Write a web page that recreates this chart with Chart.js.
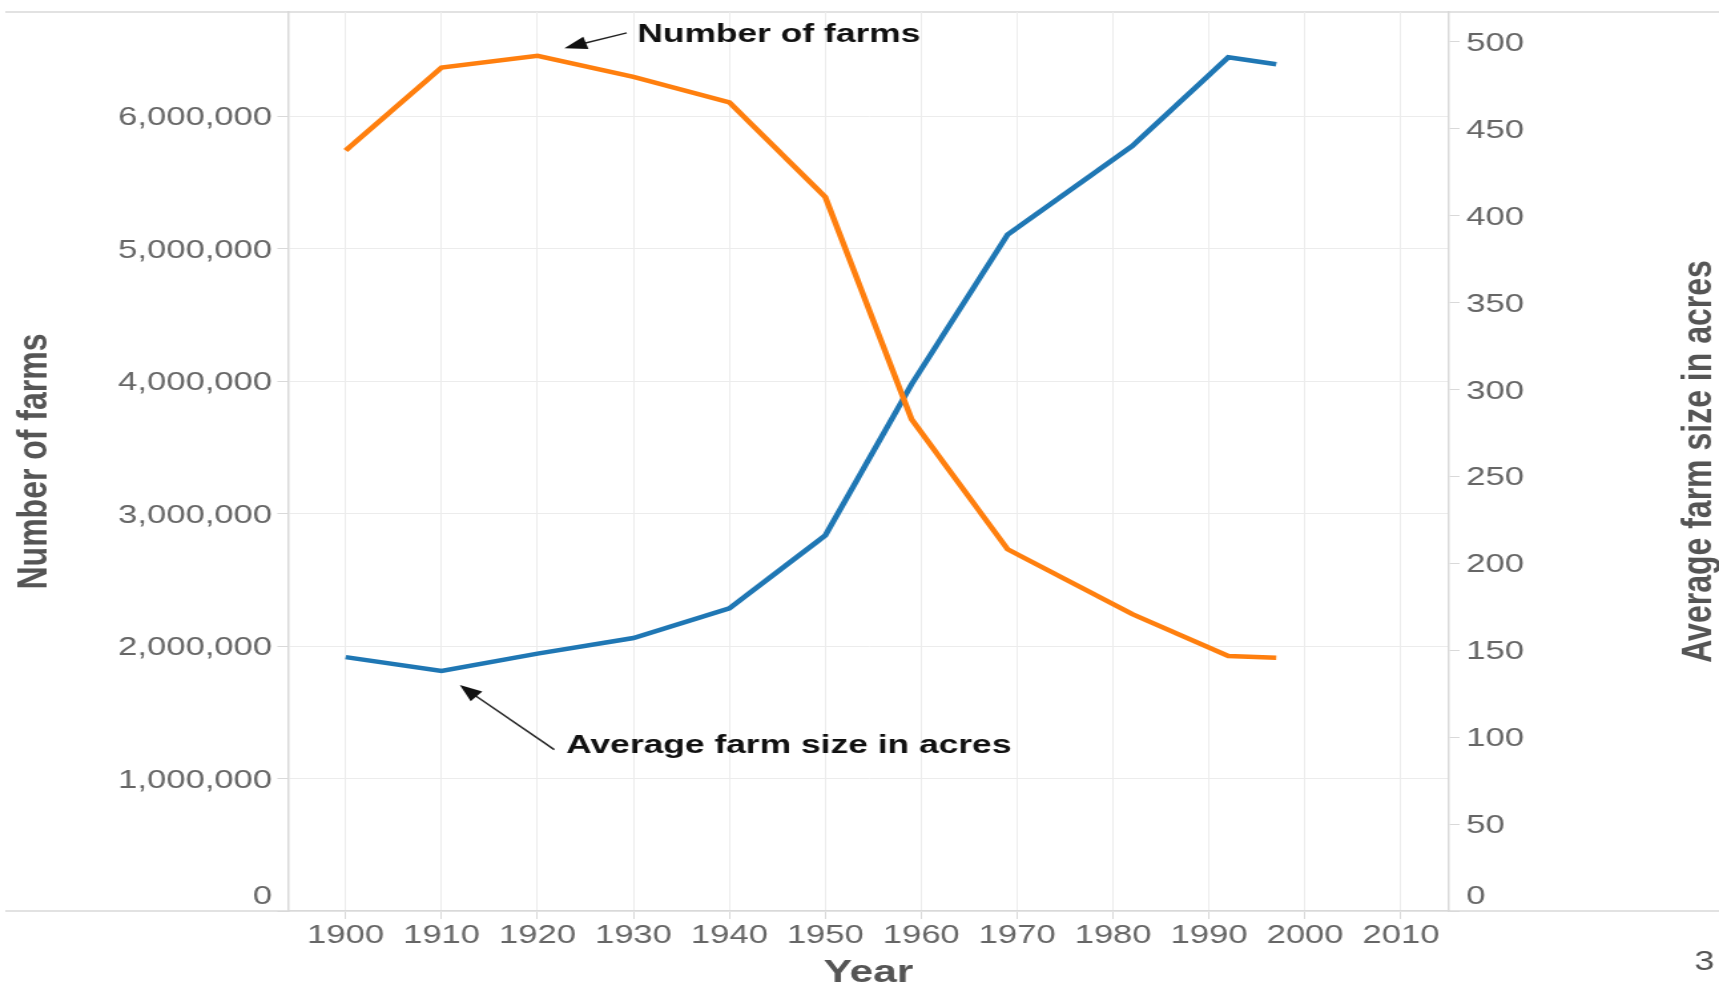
<!DOCTYPE html>
<html>
<head>
<meta charset="utf-8">
<script src="https://cdn.jsdelivr.net/npm/chart.js@4"></script>
<style>
  html, body { margin: 0; padding: 0; background: #fff; overflow: hidden; }
  /* the reference picture is stretched sideways, so the chart is drawn narrow and widened */
  #wrap { position: absolute; left: 0; top: 0; width: 1292px; height: 989px;
          transform: scaleX(1.3305); transform-origin: 0 0; }
</style>
</head>
<body>
<div id="wrap"><canvas id="farmChart"></canvas></div>
<script>
var years = [1900, 1910, 1920, 1930, 1940, 1950, 1959, 1969, 1982, 1992, 1997];
var numberOfFarms = [5740000, 6366000, 6454000, 6295000, 6102000, 5388000, 3711000, 2730000, 2241000, 1925000, 1912000];
var avgFarmSize = [146, 138, 148, 157, 174, 216, 303, 389, 440, 491, 487];

var yearTicks = [1900, 1910, 1920, 1930, 1940, 1950, 1960, 1970, 1980, 1990, 2000, 2010];
var farmTicks = [0, 1000000, 2000000, 3000000, 4000000, 5000000, 6000000];
var sizeTicks = [0, 50, 100, 150, 200, 250, 300, 350, 400, 450, 500];

// annotation anchors, in data units: [year, value]
var farmsArrow = { from: [1929.3, 6627000], to: [1922.8, 6512000], text: [1930.4, 6611000] };
var sizeArrow = { from: [1921.75, 92.8], to: [1911.9, 130.0], text: [1923.0, 95.2] };

var tickFont = "'Liberation Sans', Arial, sans-serif";
var titleFont = "'Liberation Sans Narrow', 'Arial Narrow', 'Liberation Sans', sans-serif";
var gridColor = '#ececec';
var axisColor = '#d9d9d9';

var points = function (values) {
    return years.map(function (y, i) { return { x: y, y: values[i] }; });
};
var useTicks = function (list) {
    return function (s) { s.ticks = list.map(function (v) { return { value: v }; }); };
};

var drawArrow = function (ctx, x1, y1, x2, y2) {
    var ang = Math.atan2(y2 - y1, x2 - x1);
    var len = 17, wid = 6.5;
    ctx.beginPath();
    ctx.moveTo(x1, y1);
    ctx.lineTo(x2 - Math.cos(ang) * len * 0.7, y2 - Math.sin(ang) * len * 0.7);
    ctx.stroke();
    ctx.beginPath();
    ctx.moveTo(x2, y2);
    ctx.lineTo(x2 - len * Math.cos(ang) + wid * Math.sin(ang), y2 - len * Math.sin(ang) - wid * Math.cos(ang));
    ctx.lineTo(x2 - len * Math.cos(ang) - wid * Math.sin(ang), y2 - len * Math.sin(ang) + wid * Math.cos(ang));
    ctx.closePath();
    ctx.fill();
};

var extrasPlugin = {
    id: 'extras',
    beforeDraw: function (chart) {
        var ctx = chart.ctx, a = chart.chartArea;
        ctx.save();
        ctx.strokeStyle = axisColor;
        ctx.lineWidth = 1.5;
        ctx.beginPath();
        ctx.moveTo(4, a.top); ctx.lineTo(chart.width, a.top);
        ctx.moveTo(4, a.bottom); ctx.lineTo(chart.width, a.bottom);
        ctx.stroke();
        ctx.restore();
    },
    afterDraw: function (chart) {
        var ctx = chart.ctx, a = chart.chartArea;
        var sx = chart.scales.x, yl = chart.scales.yFarms, yr = chart.scales.ySize;
        ctx.save();

        // zero labels sit just above the baseline
        ctx.fillStyle = '#666';
        ctx.font = '26px ' + tickFont;
        ctx.textBaseline = 'middle';
        ctx.textAlign = 'right';
        ctx.fillText('0', yl.right - 12, yl.getPixelForValue(0) - 14);
        ctx.textAlign = 'left';
        ctx.fillText('0', yr.left + 13, yr.getPixelForValue(0) - 14);

        // right axis title, reading upwards
        ctx.save();
        ctx.translate(1277, (a.top + a.bottom) / 2);
        ctx.rotate(-Math.PI / 2);
        ctx.textAlign = 'center';
        ctx.fillStyle = '#555';
        ctx.font = 'bold 32px ' + titleFont;
        ctx.fillText('Average farm size in acres', 0, 0);
        ctx.restore();

        // annotations
        ctx.strokeStyle = '#222';
        ctx.fillStyle = '#111';
        ctx.lineWidth = 1.4;
        drawArrow(ctx, sx.getPixelForValue(farmsArrow.from[0]), yl.getPixelForValue(farmsArrow.from[1]),
            sx.getPixelForValue(farmsArrow.to[0]), yl.getPixelForValue(farmsArrow.to[1]));
        drawArrow(ctx, sx.getPixelForValue(sizeArrow.from[0]), yr.getPixelForValue(sizeArrow.from[1]),
            sx.getPixelForValue(sizeArrow.to[0]), yr.getPixelForValue(sizeArrow.to[1]));

        ctx.font = 'bold 26.6px ' + tickFont;
        ctx.textAlign = 'left';
        ctx.textBaseline = 'middle';
        ctx.fillText('Number of farms', sx.getPixelForValue(farmsArrow.text[0]), yl.getPixelForValue(farmsArrow.text[1]));
        ctx.fillText('Average farm size in acres', sx.getPixelForValue(sizeArrow.text[0]), yr.getPixelForValue(sizeArrow.text[1]));

        // page number
        ctx.fillStyle = '#555';
        ctx.font = '27px ' + tickFont;
        ctx.textAlign = 'center';
        ctx.fillText('3', 1281, 963);
        ctx.restore();
    }
};

var chart = new Chart(document.getElementById('farmChart'), {
    type: 'line',
    data: {
        datasets: [
            {
                label: 'Number of farms',
                data: points(numberOfFarms),
                yAxisID: 'yFarms',
                borderColor: '#ff7f0e',
                borderWidth: 4.5,
                pointRadius: 0,
                tension: 0
            },
            {
                label: 'Average farm size in acres',
                data: points(avgFarmSize),
                yAxisID: 'ySize',
                borderColor: '#1f77b4',
                borderWidth: 4.5,
                pointRadius: 0,
                tension: 0
            }
        ]
    },
    options: {
        responsive: true,
        maintainAspectRatio: false,
        animation: false,
        layout: { padding: { top: 12, left: 0, right: 0, bottom: 0 } },
        plugins: { legend: { display: false }, tooltip: { enabled: false } },
        scales: {
            x: {
                type: 'linear',
                min: 1894,
                max: 2015,
                afterBuildTicks: useTicks(yearTicks),
                ticks: {
                    autoSkip: false,
                    maxRotation: 0,
                    padding: 1,
                    color: '#666',
                    font: { family: tickFont, size: 26 },
                    callback: function (v) { return String(v); }
                },
                grid: { color: gridColor, tickLength: 8, tickColor: axisColor },
                border: { color: axisColor, width: 1.5 },
                title: {
                    display: true,
                    text: 'Year',
                    color: '#555',
                    font: { family: titleFont, size: 32, weight: 'bold', lineHeight: 1 },
                    padding: { top: 0, bottom: 0 }
                },
                afterFit: function (s) { s.height = 78; s.paddingLeft = 0; s.paddingRight = 0; }
            },
            yFarms: {
                position: 'left',
                min: 0,
                max: 6785000,
                afterBuildTicks: useTicks(farmTicks),
                ticks: {
                    padding: 4,
                    labelOffset: 2,
                    color: '#666',
                    font: { family: tickFont, size: 26 },
                    callback: function (v) { return v === 0 ? '' : v.toLocaleString('en-US'); }
                },
                grid: { color: gridColor, tickLength: 8, tickColor: axisColor },
                border: { color: axisColor, width: 1.5 },
                title: {
                    display: true,
                    text: 'Number of farms',
                    color: '#555',
                    font: { family: titleFont, size: 32, weight: 'bold', lineHeight: 1 },
                    padding: { top: 10, bottom: 0 }
                },
                afterFit: function (s) { s.width = 216.5; s.paddingTop = 0; s.paddingBottom = 0; }
            },
            ySize: {
                position: 'right',
                min: 0,
                max: 517,
                afterBuildTicks: useTicks(sizeTicks),
                ticks: {
                    padding: 5,
                    labelOffset: 2,
                    color: '#666',
                    font: { family: tickFont, size: 26 },
                    callback: function (v) { return v === 0 ? '' : String(v); }
                },
                grid: { drawOnChartArea: false, tickLength: 8, tickColor: axisColor },
                border: { color: axisColor, width: 1.5 },
                afterFit: function (s) { s.width = 203; s.paddingTop = 0; s.paddingBottom = 0; }
            }
        }
    },
    plugins: [extrasPlugin]
});
</script>
</body>
</html>
